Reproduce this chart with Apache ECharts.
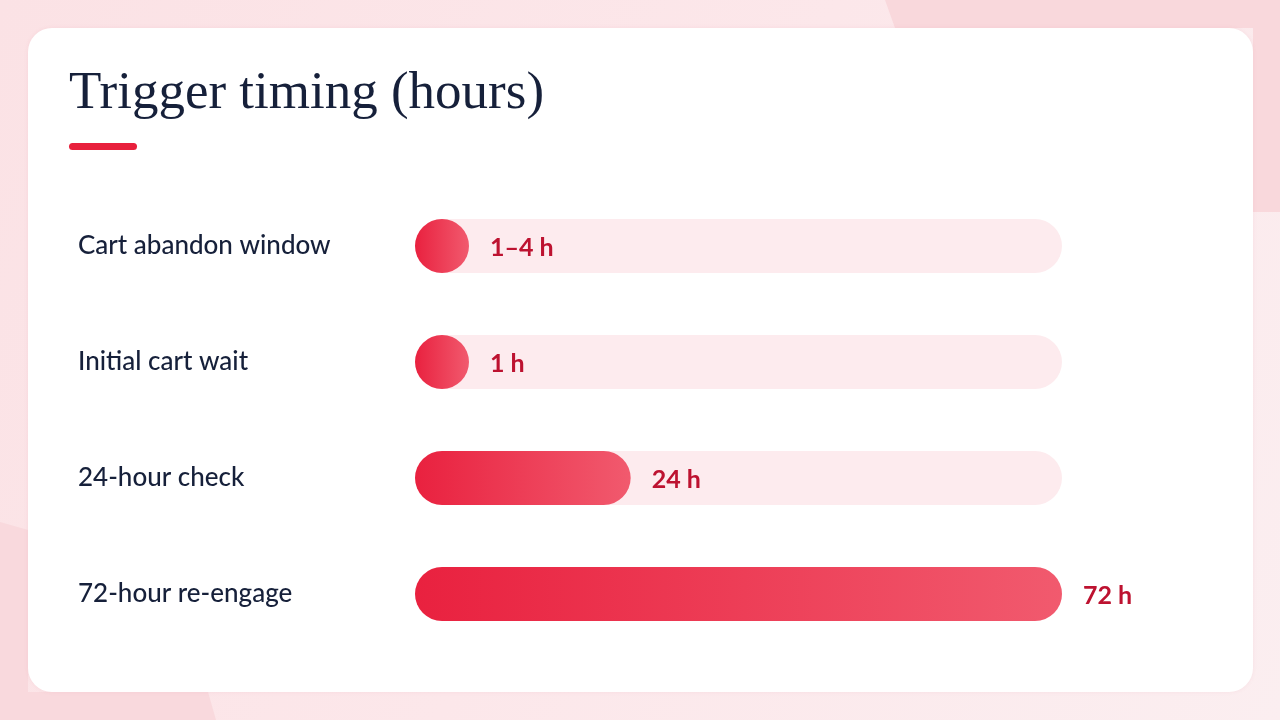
<!DOCTYPE html>
<html><head><meta charset="utf-8">
<script src="https://cdn.jsdelivr.net/npm/echarts@6/dist/echarts.min.js"></script>
<style>html,body{margin:0;padding:0;background:#fbe4e7;}#c{width:1280px;height:720px;}</style>
</head><body><div id="c"></div>
<script>
const title = 'Trigger timing (hours)';
const categories = ['Cart abandon window', 'Initial cart wait', '24-hour check', '72-hour re-engage'];
const hours = [4, 1, 24, 72];
const valueLabels = ['1–4 h', '1 h', '24 h', '72 h'];
const axisMax = 72;

const chart = echarts.init(document.getElementById('c'));
const BAR_H = 54;
const LABEL_FONT = 'Lato, "Noto Sans", sans-serif';

const option = {
  animation: false,
  backgroundColor: new echarts.graphic.LinearGradient(0,0,1,1,[{offset:0,color:'#fbe2e5'},{offset:0.5,color:'#fce7ea'},{offset:1,color:'#fbeef0'}]),
  graphic: [
    {type:'polygon', z:-10, shape:{points:[[885,0],[1280,0],[1280,212],[1253,212],[1253,28],[895,28]]}, style:{fill:'#f9d8dc'}},
    {type:'polygon', z:-10, shape:{points:[[0,522],[28,530],[28,692],[208,692],[216,720],[0,720]]}, style:{fill:'#f9d9dd'}},
    {type:'rect', z:-5, shape:{x:28, y:28, width:1225, height:664, r:24}, style:{fill:'#ffffff', shadowBlur:4, shadowColor:'rgba(200,80,100,0.08)'}},
    {type:'text', z:10, left:69, top:68, style:{text:title, fill:'#16203a', font:'400 53px "Liberation Serif", serif'}},
    {type:'rect', z:10, shape:{x:69, y:143, width:68, height:7, r:3.5}, style:{fill:'#e8203c'}}
  ],
  grid: {left:415, right:218, top:188, bottom:68},
  xAxis: {type:'value', min:0, max:axisMax, show:false},
  yAxis: {
    type:'category', data:categories, inverse:true,
    axisLine:{show:false}, axisTick:{show:false}, splitLine:{show:false},
    axisLabel:{align:'left', margin:337, color:'#16203a', fontSize:26, fontWeight:500, fontFamily:LABEL_FONT, padding:[0,0,6,0]}
  },
  series: [
    {
      type:'custom', z:1,
      data: categories.map((c,i)=>[axisMax, i]),
      renderItem(params, api){
        const s = api.coord([0, api.value(1)]);
        const e = api.coord([api.value(0), api.value(1)]);
        return {type:'rect', shape:{x:s[0], y:s[1]-BAR_H/2, width:e[0]-s[0], height:BAR_H, r:BAR_H/2}, style:{fill:'#fdebee'}};
      }
    },
    {
      type:'custom', z:2,
      data: hours.map((v,i)=>[v, i]),
      renderItem(params, api){
        const idx = api.value(1);
        const s = api.coord([0, idx]);
        const e = api.coord([api.value(0), idx]);
        const w = Math.max(e[0]-s[0], BAR_H);
        return {type:'group', children:[
          {type:'rect', shape:{x:s[0], y:s[1]-BAR_H/2, width:w, height:BAR_H, r:BAR_H/2},
           style:{fill:new echarts.graphic.LinearGradient(0,0,1,0,[{offset:0,color:'#e9213f'},{offset:1,color:'#f15a6e'}])}},
          {type:'text', x:s[0]+w+21, y:s[1]+2, style:{text:valueLabels[params.dataIndex], fill:'#bd1230', font:'700 25px '+LABEL_FONT, verticalAlign:'middle', align:'left'}}
        ]};
      }
    }
  ]
};
chart.setOption(option);
</script></body></html>
